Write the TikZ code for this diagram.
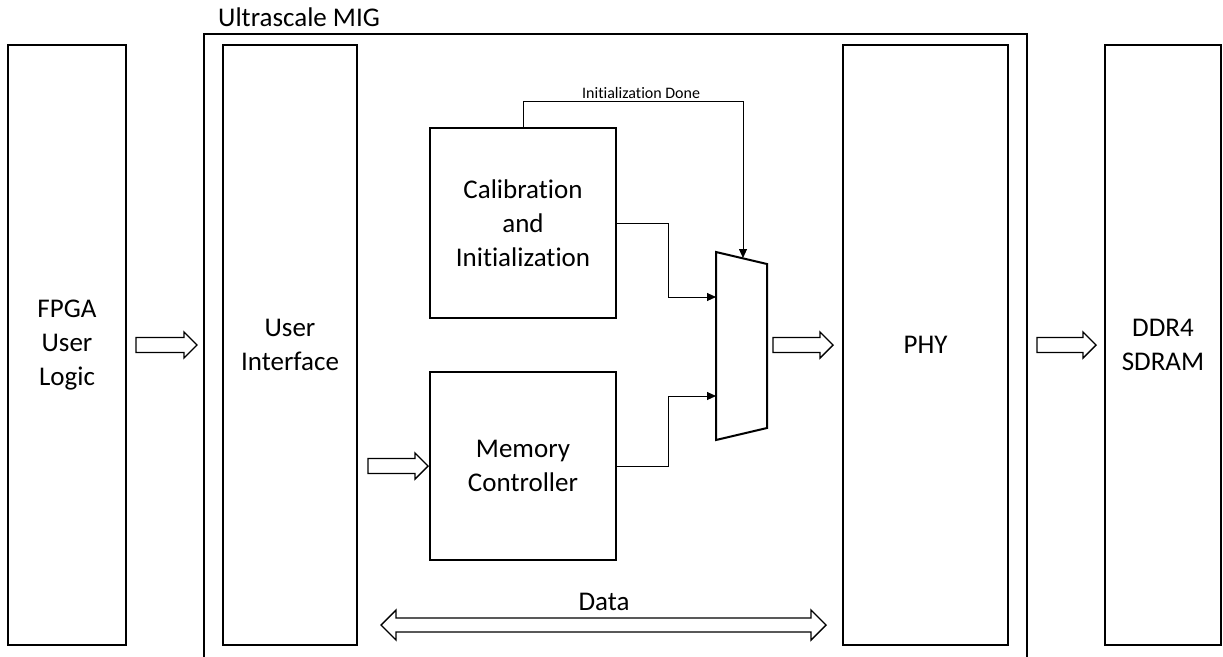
\documentclass[tikz,border=0pt]{standalone}
\usepackage{fontspec}
\setmainfont{Carlito}[Ligatures=NoCommon]
\usetikzlibrary{calc,arrows.meta}

\tikzset{
  blk/.style={draw, line width=2pt, align=center, inner sep=0pt, minimum height=600pt},
  sig/.style={draw, line width=0.9pt, -{Triangle[length=9pt,width=8pt]}},
  % hollow block arrows
  fat/.style={draw, line width=1.4pt, fill=white,
    to path={let \p1=(\tikztostart), \p2=(\tikztotarget) in
      (\x1,\y1+7.5pt) -- (\x2-13pt,\y1+7.5pt) -- (\x2-13pt,\y1+13pt) -- (\x2,\y1)
      -- (\x2-13pt,\y1-13pt) -- (\x2-13pt,\y1-7.5pt) -- (\x1,\y1-7.5pt) -- cycle}},
  fatboth/.style={draw, line width=1.4pt, fill=white,
    to path={let \p1=(\tikztostart), \p2=(\tikztotarget) in
      (\x1,\y1) -- (\x1+15pt,\y1+15pt) -- (\x1+15pt,\y1+7pt) -- (\x2-15pt,\y1+7pt)
      -- (\x2-15pt,\y1+15pt) -- (\x2,\y1) -- (\x2-15pt,\y1-15pt) -- (\x2-15pt,\y1-7pt)
      -- (\x1+15pt,\y1-7pt) -- (\x1+15pt,\y1-15pt) -- cycle}},
}

\begin{document}
\begin{tikzpicture}[x=1pt, y=-1pt, font=\fontsize{27}{34}\selectfont]
  \useasboundingbox (0,0) rectangle (1223,656);

  \node[blk, minimum width=118pt] (fpga) at (67,345) {FPGA\\User\\Logic};
  \node[blk, minimum width=134pt] (ui) at (290,345) {User\\Interface};
  \node[blk, minimum width=186pt, minimum height=190pt] (cal) at (523,223) {Calibration\\and\\Initialization};
  \node[blk, minimum width=186pt, minimum height=188pt] (mc) at (523,466) {Memory\\Controller};
  \node[blk, minimum width=165pt] (phy) at (925.5,345) {PHY};
  \node[blk, minimum width=116pt] (ddr) at (1163,345) {DDR4\\SDRAM};

  % MIG frame, open at the bottom
  \draw[line width=1.6pt] (204,662) -- (204,34) -- (1027,34) -- (1027,662);
  \node[anchor=base west, inner sep=0pt] (mig) at (218,26) {Ultrascale MIG};

  % mux
  \draw[line width=2pt] (716,252) -- (767,264) -- (767,428) -- (716,440) -- cycle;
  \coordinate (sel) at (743,258);
  \coordinate (in1) at (716,297);
  \coordinate (in2) at (716,396);
  \coordinate (muxout) at (767,345);

  \draw[sig] (cal.east) -- ++(51,0) |- (in1);
  \draw[sig] (mc.east) -- ++(51,0) |- (in2);
  \draw[sig] (cal.north) -- ++(0,-26) -| (sel);
  \node[anchor=base west, inner sep=0pt, font=\fontsize{16}{18}\selectfont] (done) at (582,98) {Initialization Done};

  \draw[fat] ([xshift=9pt]fpga.east) to ([xshift=-25pt]ui.west);
  \draw[fat] ([xshift=10pt]ui.east |- mc.east) to ([xshift=-1pt]mc.west);
  \draw[fat] ([xshift=6pt]muxout) to ([xshift=-9pt]phy.west);
  \draw[fat] ([xshift=28pt]phy.east) to ([xshift=-8pt]ddr.west);

  \draw[fatboth] ([xshift=23pt]ui.east |- 0,625) to ([xshift=-16pt]phy.west |- 0,625);
  \node[anchor=base, inner sep=0pt] (data) at (604,610) {Data};

\end{tikzpicture}
\end{document}
